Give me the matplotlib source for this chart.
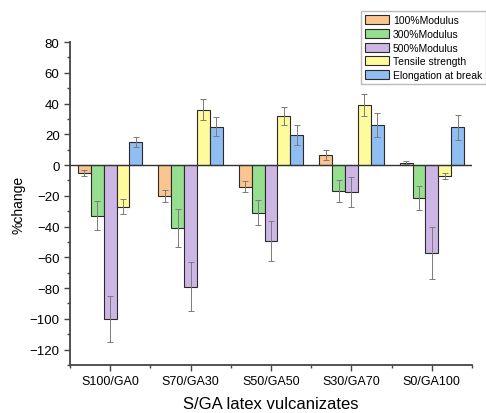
import numpy as np
import matplotlib
matplotlib.use("Agg")
import matplotlib.pyplot as plt
from matplotlib.ticker import MultipleLocator, FixedLocator

plt.rcParams['font.family'] = ['Liberation Sans', 'DejaVu Sans']

categories = ["S100/GA0", "S70/GA30", "S50/GA50", "S30/GA70", "S0/GA100"]
series_names = ["100%Modulus", "300%Modulus", "500%Modulus",
                "Tensile strength", "Elongation at break"]

modulus100 = [-5, -20, -14, 6.5, 1.5]
modulus300 = [-33, -41, -31, -17, -21.5]
modulus500 = [-100, -79, -49.5, -17.5, -57]
tensile = [-27, 36, 32, 39, -7]
elongation = [15, 25, 19.5, 26, 24.5]

err100 = [2, 4, 3.5, 3.5, 1]
err300 = [9.5, 12.5, 8, 7, 8]
err500 = [15, 16, 13, 10, 17]
err_tensile = [5, 7, 6, 7, 2]
err_elong = [3, 6, 6.5, 8, 8]

values = [modulus100, modulus300, modulus500, tensile, elongation]
errors = [err100, err300, err500, err_tensile, err_elong]
colors = ["#FBC58F", "#97DE91", "#CDB6E6", "#FEFB9C", "#90BDF2"]

fig = plt.figure(figsize=(4.86, 4.14), dpi=100)
ax = fig.add_axes([70/486, 1-366/414, (472-70)/486, (366-43)/414])

x = np.arange(len(categories))
width = 0.16
for i, (vals, errs, c, name) in enumerate(zip(values, errors, colors, series_names)):
    pos = x + (i - 2) * width
    ax.bar(pos, vals, width, color=c, edgecolor="#2a2a2a", linewidth=0.8,
           label=name, zorder=2)
    ax.errorbar(pos, vals, yerr=errs, fmt="none", ecolor="#7a7a7a",
                elinewidth=0.7, capsize=2, capthick=0.7, zorder=3)

ax.axhline(0, color="#333333", linewidth=1.0, zorder=4)

ax.set_xlim(-0.5, 4.5)
ax.set_ylim(-130, 80)
ax.set_xticks(x)
ax.set_xticklabels(categories, fontsize=9)
ax.xaxis.set_minor_locator(FixedLocator(np.arange(-0.5, 4.6, 1.0)))
ax.set_yticks(np.arange(-120, 81, 20))
ax.yaxis.set_minor_locator(MultipleLocator(10))
ax.tick_params(axis="y", labelsize=9.5)
ax.tick_params(which="major", direction="out", length=4, width=1, color="#444444")
ax.tick_params(which="minor", direction="out", length=2, width=1, color="#444444")

for side in ("top", "right"):
    ax.spines[side].set_visible(False)
for side in ("left", "bottom"):
    ax.spines[side].set_color("#444444")
    ax.spines[side].set_linewidth(1.3)

ax.set_ylabel("%change", fontsize=10)
ax.yaxis.set_label_coords(-0.11, 0.5)
ax.set_xlabel("S/GA latex vulcanizates", fontsize=12, labelpad=6)

fig.legend(loc="upper left", bbox_to_anchor=(361/486, 1-12/414),
           bbox_transform=fig.transFigure, fontsize=7.5, frameon=True,
           fancybox=False, edgecolor="#bbbbbb", framealpha=1,
           handlelength=2.3, handleheight=0.95, handletextpad=0.35,
           labelspacing=0.35, borderpad=0.4, borderaxespad=0)

fig.savefig("out.png", dpi=100)
